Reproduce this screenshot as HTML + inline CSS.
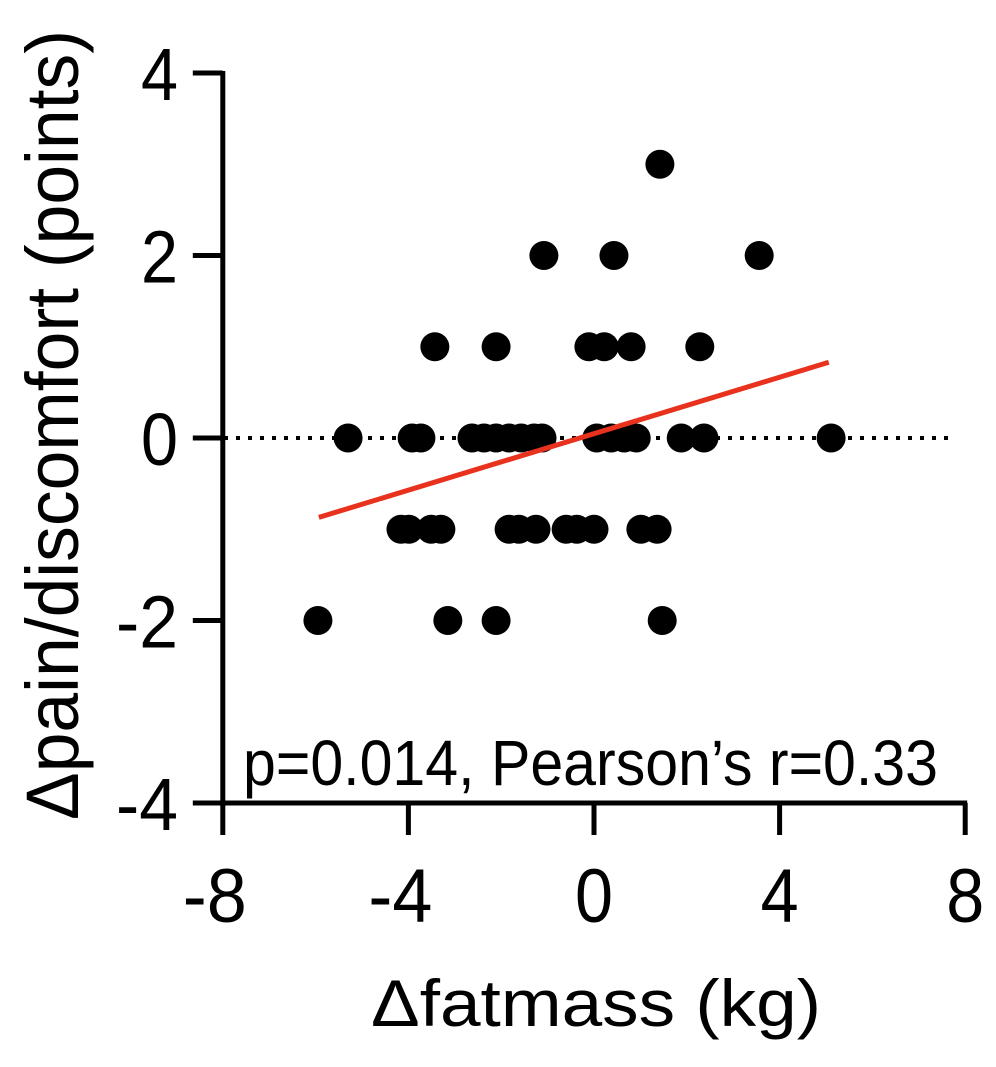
<!DOCTYPE html>
<html><head><meta charset="utf-8"><style>
html,body{margin:0;padding:0;background:#fff;}
svg text{font-family:"Liberation Sans",Arial,sans-serif;fill:#000;}
</style></head><body>
<svg id="chart" width="996" height="1062" viewBox="0 0 996 1062" xmlns="http://www.w3.org/2000/svg">
<g id="axes"></g><g id="marks"></g>
<text transform="translate(78,425) rotate(-90)" text-anchor="middle" font-size="74" textLength="790" lengthAdjust="spacingAndGlyphs">Δpain/discomfort (points)</text>
<text x="371" y="1026" font-size="66" textLength="450" lengthAdjust="spacingAndGlyphs">Δfatmass (kg)</text>
<text x="243" y="785" font-size="64" textLength="695" lengthAdjust="spacingAndGlyphs">p=0.014, Pearson’s r=0.33</text>
</svg>
<script>
const xTicks=[-8,-4,0,4,8];
const yTicks=[-4,-2,0,2,4];
const xVals=[1.42,-1.08,0.43,3.56,-3.43,-2.11,-0.11,0.22,0.80,2.28,-5.30,-3.92,-3.73,-2.63,-2.37,-2.11,-1.83,-1.57,-1.29,-1.12,0.06,0.37,0.65,0.91,1.88,2.37,5.11,-4.16,-3.99,-3.51,-3.30,-1.83,-1.62,-1.25,-0.60,-0.37,0,1.01,1.36,-5.95,-3.15,-2.11,1.47];
const yVals=[3,2,2,2,1,1,1,1,1,1,0,0,0,0,0,0,0,0,0,0,0,0,0,0,0,0,0,-1,-1,-1,-1,-1,-1,-1,-1,-1,-1,-1,-1,-2,-2,-2,-2];
const fitX=[-5.93,5.06];
const fitY=[-0.87,0.83];
const NS='http://www.w3.org/2000/svg';
const sx=v=>594+v*46.4;
const sy=v=>438-v*91.25;
function mk(t,a,p){const e=document.createElementNS(NS,t);for(const k in a)e.setAttribute(k,a[k]);p.appendChild(e);return e;}
const ax=document.getElementById('axes'),mg=document.getElementById('marks');
let l=mk('line',{x1:sx(-8),y1:sy(4)-2,x2:sx(-8),y2:sy(-4)+3,stroke:'#000','stroke-width':5},ax);


l=mk('line',{x1:sx(-8)-2,y1:sy(-4),x2:sx(8)+2,y2:sy(-4),stroke:'#000','stroke-width':5},ax);


yTicks.forEach(v=>{
 const t=mk('line',{x1:sx(-8)-30,y1:sy(v),x2:sx(-8),y2:sy(v),stroke:'#000','stroke-width':5},ax);
 
 
 const s=String(v);
 const tx=mk('text',{x:178,y:sy(v)+27,'text-anchor':'end','font-size':74,textLength:s.length>1?62:37,lengthAdjust:'spacingAndGlyphs'},ax);tx.textContent=s;
 
 
});
xTicks.forEach(v=>{
 const t=mk('line',{x1:sx(v),y1:sy(-4),x2:sx(v),y2:sy(-4)+32,stroke:'#000','stroke-width':5},ax);
 
 
 const s=String(v);
 const tx=mk('text',{x:sx(v)+(v<0?-8:0),y:922,'text-anchor':'middle','font-size':76,textLength:s.length>1?64:38,lengthAdjust:'spacingAndGlyphs'},ax);tx.textContent=s;
 
 
});
l=mk('line',{x1:224,y1:sy(0),x2:952,y2:sy(0),stroke:'#000','stroke-width':4,'stroke-dasharray':'4 8'},mg);


xVals.forEach((v,i)=>{
 const c=mk('circle',{cx:sx(v),cy:sy(yVals[i]),r:14.5,fill:'#000'},mg);
 
 
});
l=mk('line',{x1:sx(fitX[0]),y1:sy(fitY[0]),x2:sx(fitX[1]),y2:sy(fitY[1]),stroke:'#e8321e','stroke-width':5},mg);


</script>
</body></html>
